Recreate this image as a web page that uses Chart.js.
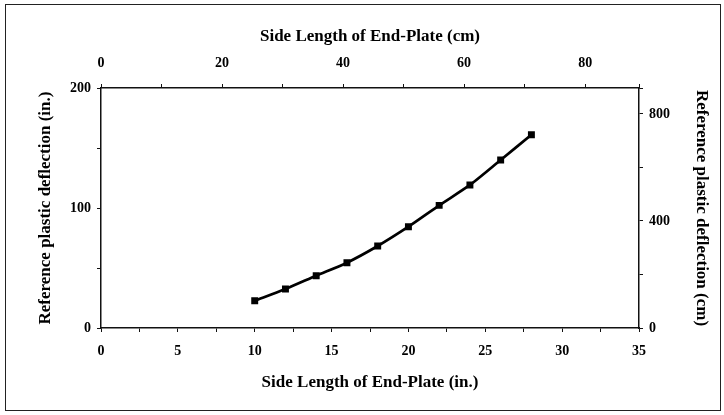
<!DOCTYPE html>
<html>
<head>
<meta charset="utf-8">
<script src="https://cdn.jsdelivr.net/npm/chart.js@4"></script>
<style>
  html, body { margin: 0; padding: 0; background: #fff; }
  #wrap { position: relative; width: 724px; height: 415px; }
  #frame { position: absolute; left: 5px; top: 4px; width: 716px; height: 407px; border: 1px solid #222; box-sizing: border-box; pointer-events: none; }
</style>
</head>
<body>
<div id="wrap">
  <canvas id="chart" width="724" height="415"></canvas>
  <div id="frame"></div>
</div>
<script>
// side length of the end-plate (in.)
const sideLength = [10, 12, 14, 16, 18, 20, 22, 24, 26, 28];
// reference plastic deflection (in.)
const deflection = [22.7, 32.5, 43.6, 54.4, 68.3, 84.4, 102.2, 119.2, 140, 161];

const xTitle = 'Side Length of End-Plate (in.)';
const x2Title = 'Side Length of End-Plate (cm)';
const yTitle = 'Reference plastic deflection (in.)';
const y2Title = 'Reference plastic deflection (cm)';

const points = sideLength.map((x, i) => ({ x: x, y: deflection[i] }));

const tickFont = { family: 'Liberation Serif', size: 14, weight: 'bold' };
const titleFont = { family: 'Liberation Serif', size: 17, weight: 'bold' };

// marques courtes, pas de grille dans la zone de tracé
function axisGrid() {
  return { display: true, drawOnChartArea: false, drawTicks: true, tickLength: 4, color: '#111', lineWidth: 1 };
}

new Chart(document.getElementById('chart').getContext('2d'), {
  type: 'line',
  data: {
    datasets: [{
      data: points,
      xAxisID: 'x',
      yAxisID: 'y',
      borderColor: '#000',
      backgroundColor: '#000',
      borderWidth: 2.7,
      tension: 0.25,
      pointStyle: 'rect',
      pointRadius: 3,
      fill: false,
    }]
  },
  options: {
    responsive: false,
    animation: false,
    layout: { padding: { left: 30, right: 12, top: 22, bottom: 22 } },
    plugins: { legend: { display: false }, tooltip: { enabled: false } },
    scales: {
      x: {
        type: 'linear', position: 'bottom', min: 0, max: 35,
        border: { display: true, color: '#111', width: 1.5 },
        grid: axisGrid(),
        ticks: {
          stepSize: 2.5, color: '#000', font: tickFont, maxRotation: 0, padding: 11,
          callback: v => (v % 5 === 0 ? v : '')
        },
        title: { display: true, text: xTitle, color: '#000', font: titleFont, padding: { top: 0, bottom: 0 } },
        afterFit: s => { s.height = 65; }
      },
      x2: {
        type: 'linear', position: 'top', min: 0, max: 88.9,
        border: { display: true, color: '#111', width: 1.5 },
        grid: axisGrid(),
        ticks: {
          stepSize: 10, color: '#000', font: tickFont, maxRotation: 0, padding: 12,
          callback: v => (v % 20 === 0 ? v : '')
        },
        title: { display: true, text: x2Title, color: '#000', font: titleFont, padding: { top: 4, bottom: 0 } },
        afterFit: s => { s.height = 66; }
      },
      y: {
        type: 'linear', position: 'left', min: 0, max: 200,
        border: { display: true, color: '#111', width: 1.5 },
        grid: axisGrid(),
        ticks: {
          stepSize: 50, color: '#000', font: tickFont, padding: 6,
          callback: v => (v % 100 === 0 ? v : '')
        },
        title: { display: true, text: yTitle, color: '#000', font: titleFont, padding: { top: 5, bottom: 0 } },
        afterFit: s => { s.width = 71; }
      },
      y2: {
        type: 'linear', position: 'right', min: 0, max: 897,
        border: { display: true, color: '#111', width: 1.5 },
        grid: axisGrid(),
        ticks: {
          stepSize: 200, color: '#000', font: tickFont, padding: 6,
          callback: v => (v % 400 === 0 ? v : '')
        },
        title: { display: true, text: y2Title, color: '#000', font: titleFont, padding: { top: 0, bottom: 0 } },
        afterFit: s => { s.width = 73; }
      }
    }
  }
});
</script>
</body>
</html>
